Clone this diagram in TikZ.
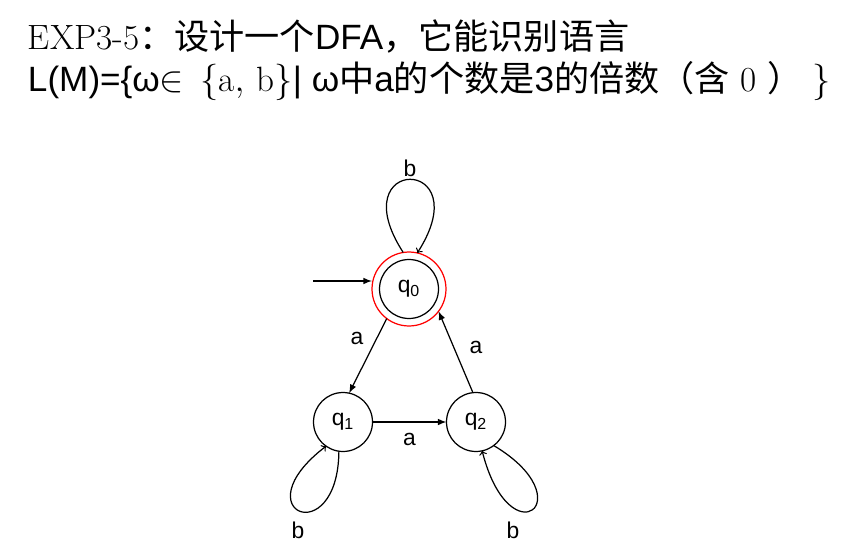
\documentclass[tikz,border=0pt]{standalone}
\usepackage{fontspec}
\usepackage{amsmath}
\newfontfamily\arial{Liberation Sans}
\newfontfamily\cjk{Noto Sans CJK SC}
\usetikzlibrary{positioning}
\usetikzlibrary{arrows}

\begin{document}
\begin{tikzpicture}[x=0.02cm,y=-0.02cm,every node/.style={outer sep=0pt},
 line width=0.7pt,
 state/.style={draw,circle,minimum size=1.18cm,inner sep=0pt,font=\arial\fontsize{13}{15}\selectfont},
 ring/.style={draw=red,circle,minimum size=1.48cm,inner sep=0pt},
 edge/.style={-latex},
 loop/.style={->},
 lbl/.style={font=\arial\fontsize{13}{15}\selectfont},
 title/.style={anchor=north west,inner sep=0pt,align=left,font=\fontsize{20}{24}\selectfont}]

  \useasboundingbox (0,0) rectangle (859,554);

  \node[title] (heading) at (28,20) {EXP3-5{\cjk ：设计一个}{\arial DFA}{\cjk ，它能识别语言}\\
   {\arial L(M)=\{ω}$\in\,\{\mathrm{a},\,\mathrm{b}\}${\arial | ω}{\cjk 中}{\arial a}{\cjk 的个数是}{\arial 3}{\cjk 的倍数（含}\ \rmfamily\upshape 0\ {\cjk ）}\ $\}$};

  \node[state] (q0) at (409,289) {q\textsubscript{0}};
  \node[ring] (q0ring) at (q0) {};
  \node[state] (q1) at (343,422) {q\textsubscript{1}};
  \node[state] (q2) at (476,422) {q\textsubscript{2}};

  \coordinate (start) at (313,281);
  \draw[edge] (start) -- (q0ring.west|-start);

  \draw[loop] (q0ring.99) .. controls (340,155) and (480,155) .. (q0ring.77);
  \node[lbl] (lb0) at (410,168) {b};

  \draw[edge] (q0ring.233) -- (q1.78);
  \node[lbl] (la1) at (357,338) {a};

  \draw[edge] (q1) -- (q2) node[lbl,midway,below=1mm] (la2) {a};

  \draw[edge] (q2.96) -- (q0ring.323);
  \node[lbl] (la3) at (476,347) {a};

  \draw[loop] (q1.262) .. controls (338,552) and (240,512) .. (q1.235);
  \node[lbl] (lb1) at (298,530) {b};

  \draw[loop] (q2.307) .. controls (585,500) and (510,560) .. (q2.282);
  \node[lbl] (lb2) at (513,530) {b};

\end{tikzpicture}
\end{document}
